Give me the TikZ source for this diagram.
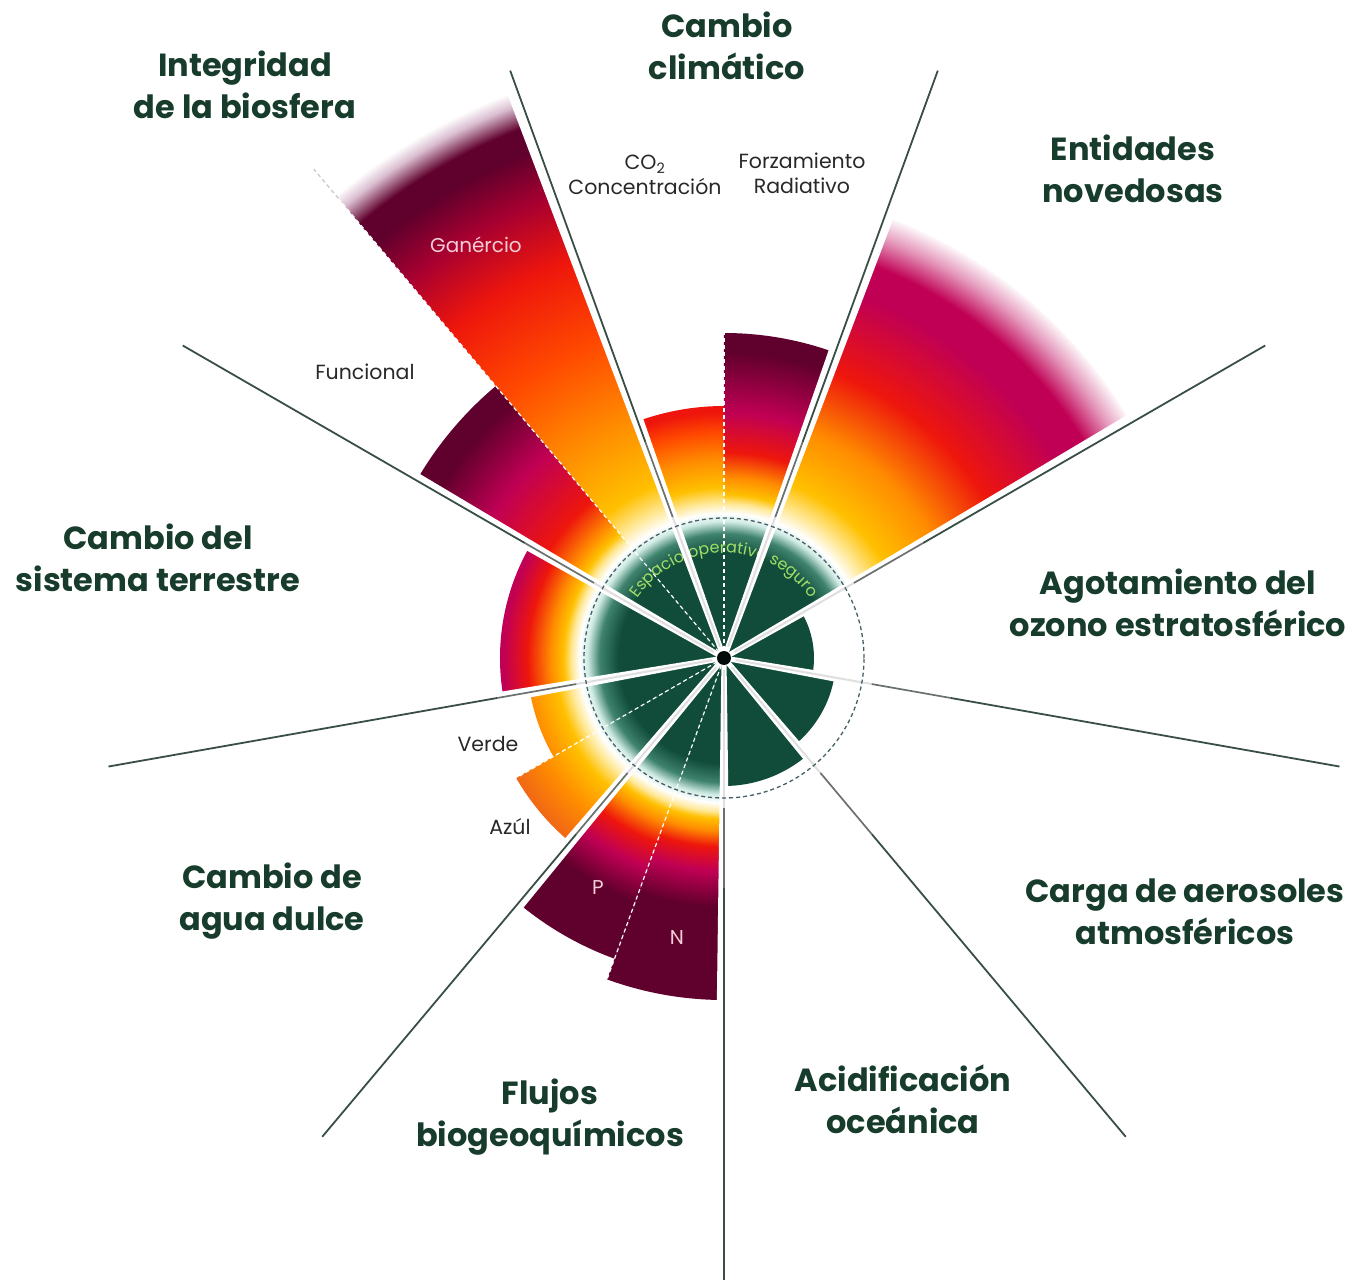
\documentclass[tikz,border=0pt]{standalone}
\usepackage{fontspec}
\setmainfont{Poppins}
\usetikzlibrary{decorations.text}

\definecolor{pbgreen}{RGB}{16,76,57}
\definecolor{pbglowA}{RGB}{62,130,110}
\definecolor{pbglowB}{RGB}{208,235,228}
\definecolor{pblight}{RGB}{255,232,150}
\definecolor{pbyel}{RGB}{255,192,0}
\definecolor{pbora}{RGB}{255,140,0}
\definecolor{pbdora}{RGB}{240,102,22}
\definecolor{pbrora}{RGB}{255,72,0}
\definecolor{pbred}{RGB}{238,22,12}
\definecolor{pbcrim}{RGB}{168,0,48}
\definecolor{pbmag}{RGB}{192,0,84}
\definecolor{pbmar}{RGB}{96,0,44}
\definecolor{pbpink}{RGB}{228,150,186}
\definecolor{pbpale}{RGB}{218,190,208}
\definecolor{pbtitle}{RGB}{24,60,44}
\definecolor{pbtext}{RGB}{40,40,40}
\definecolor{pbintext}{RGB}{246,205,215}
\definecolor{pbsafe}{RGB}{160,222,104}
\definecolor{pbspoke}{RGB}{58,78,72}
\definecolor{pbring}{RGB}{70,96,104}

% one radial shading per boundary, radii in bp from the centre
\pgfdeclareradialshading{shco}{\pgfpointorigin}{color(0bp)=(pbgreen); color(105bp)=(pbgreen); color(124bp)=(pbglowA); color(136bp)=(pbglowB); color(144bp)=(white); color(155bp)=(pblight); color(170bp)=(pbyel); color(198bp)=(pbora); color(225bp)=(pbrora); color(245bp)=(pbred); color(700bp)=(pbred)}
\pgfdeclareradialshading{shrf}{\pgfpointorigin}{color(0bp)=(pbgreen); color(105bp)=(pbgreen); color(124bp)=(pbglowA); color(136bp)=(pbglowB); color(144bp)=(white); color(154bp)=(pblight); color(163bp)=(pbyel); color(180bp)=(pbora); color(205bp)=(pbred); color(245bp)=(pbmag); color(305bp)=(pbmar); color(700bp)=(pbmar)}
\pgfdeclareradialshading{shnovel}{\pgfpointorigin}{color(0bp)=(pbgreen); color(105bp)=(pbgreen); color(124bp)=(pbglowA); color(136bp)=(pbglowB); color(144bp)=(white); color(160bp)=(pblight); color(185bp)=(pbyel); color(240bp)=(pbora); color(305bp)=(pbred); color(385bp)=(pbmag); color(418bp)=(pbmag); color(446bp)=(pbpink); color(470bp)=(white); color(700bp)=(white)}
\pgfdeclareradialshading{shgen}{\pgfpointorigin}{color(0bp)=(pbgreen); color(105bp)=(pbgreen); color(124bp)=(pbglowA); color(136bp)=(pbglowB); color(144bp)=(white); color(160bp)=(pblight); color(185bp)=(pbyel); color(255bp)=(pbora); color(340bp)=(pbrora); color(425bp)=(pbred); color(490bp)=(pbcrim); color(540bp)=(pbmar); color(565bp)=(pbmar); color(588bp)=(pbpale); color(602bp)=(white); color(700bp)=(white)}
\pgfdeclareradialshading{shfun}{\pgfpointorigin}{color(0bp)=(pbgreen); color(105bp)=(pbgreen); color(124bp)=(pbglowA); color(136bp)=(pbglowB); color(144bp)=(white); color(153bp)=(pblight); color(162bp)=(pbyel); color(175bp)=(pbora); color(205bp)=(pbred); color(270bp)=(pbmag); color(330bp)=(pbmar); color(700bp)=(pbmar)}
\pgfdeclareradialshading{shland}{\pgfpointorigin}{color(0bp)=(pbgreen); color(105bp)=(pbgreen); color(124bp)=(pbglowA); color(136bp)=(pbglowB); color(144bp)=(white); color(152bp)=(pblight); color(160bp)=(pbyel); color(173bp)=(pbora); color(196bp)=(pbred); color(220bp)=(pbmag); color(700bp)=(pbmag)}
\pgfdeclareradialshading{shverde}{\pgfpointorigin}{color(0bp)=(pbgreen); color(105bp)=(pbgreen); color(124bp)=(pbglowA); color(136bp)=(pbglowB); color(144bp)=(white); color(155bp)=(pblight); color(168bp)=(pbyel); color(197bp)=(pbora); color(700bp)=(pbora)}
\pgfdeclareradialshading{shazul}{\pgfpointorigin}{color(0bp)=(pbgreen); color(105bp)=(pbgreen); color(124bp)=(pbglowA); color(136bp)=(pbglowB); color(144bp)=(white); color(156bp)=(pblight); color(172bp)=(pbyel); color(205bp)=(pbora); color(240bp)=(pbdora); color(700bp)=(pbdora)}
\pgfdeclareradialshading{shp}{\pgfpointorigin}{color(0bp)=(pbgreen); color(105bp)=(pbgreen); color(124bp)=(pbglowA); color(136bp)=(pbglowB); color(144bp)=(white); color(153bp)=(pblight); color(161bp)=(pbyel); color(174bp)=(pbora); color(195bp)=(pbred); color(222bp)=(pbmag); color(258bp)=(pbmar); color(700bp)=(pbmar)}
\pgfdeclareradialshading{shn}{\pgfpointorigin}{color(0bp)=(pbgreen); color(105bp)=(pbgreen); color(124bp)=(pbglowA); color(136bp)=(pbglowB); color(144bp)=(white); color(153bp)=(pblight); color(160bp)=(pbyel); color(172bp)=(pbora); color(188bp)=(pbred); color(212bp)=(pbmag); color(248bp)=(pbmar); color(700bp)=(pbmar)}

% shaded wedge: start angle, end angle, radius, shading
\newcommand{\pbwedge}[4]{%
  \begin{scope}
    \clip (0,0) -- (#1:#3) arc[start angle=#1, end angle=#2, radius=#3] -- cycle;
    \pgftext{\pgfuseshading{#4}}
  \end{scope}}

\begin{document}
\begin{tikzpicture}[x=1pt,y=1pt,
    title/.style={font=\bfseries\fontsize{32}{42}\selectfont, text=pbtitle, align=center},
    sublabel/.style={font=\fontsize{20.5}{25}\selectfont, text=pbtext, align=center},
    inlabel/.style={font=\fontsize{20}{25}\selectfont, text=pbintext},
    divline/.style={white, line width=1.2pt, dash pattern=on 4pt off 3pt},
    spokein/.style={draw=white!75!gray, line width=2pt},
    spokemid/.style={draw=gray!70!pbspoke, line width=1.7pt},
    spokeout/.style={draw=pbspoke, line width=1.8pt}]
  \useasboundingbox (-724,-622) rectangle (634,658);

  % safe boundaries (green only)
  \fill[pbgreen] (0,0) -- (-10:90) arc[start angle=-10, end angle=30, radius=90] -- cycle;
  \fill[pbgreen] (0,0) -- (-50:112) arc[start angle=-50, end angle=-10, radius=112] -- cycle;
  \fill[pbgreen] (0,0) -- (-90:128) arc[start angle=-90, end angle=-50, radius=128] -- cycle;

  % transgressed boundaries
  \pbwedge{90}{110}{252}{shco}
  \pbwedge{70}{90}{325}{shrf}
  \pbwedge{30}{70}{470}{shnovel}
  \pbwedge{110}{130}{620}{shgen}
  \pbwedge{130}{150}{355}{shfun}
  \pbwedge{150}{190}{224}{shland}
  \pbwedge{190}{210}{197}{shverde}
  \pbwedge{210}{230}{240}{shazul}
  \pbwedge{230}{250}{320}{shp}
  \pbwedge{250}{270}{342}{shn}

  % sub-boundary lines
  \draw[divline] (90:8) -- (90:338);
  \draw[divline] (130:8) -- (130:600);
  \draw[divline, draw=gray!45] (130:600) -- (130:638);
  \draw[divline] (210:8) -- (210:240);
  \draw[divline] (250:8) -- (250:346);

  \path[decorate, decoration={text along path, text align=center, text color=pbsafe,
      text={|\fontsize{16}{16}\selectfont|Espacio operativo seguro}}]
    (152:105) arc[start angle=152, end angle=28, radius=105];

  % spokes
  \foreach \a in {110,70,30,-10,-50,-90,-130,-170,150}{
    \fill[white] (\a+90:2.5) -- (\a+1:640) -- (\a-1:640) -- (\a-90:2.5) -- cycle;
    \draw[spokein] (\a:12) -- (\a:150);
    \draw[spokemid] (\a:150) -- (\a:230);
    \draw[spokeout] (\a:230) -- (\a:625);
  }

  \draw[pbring, line width=1.3pt, dash pattern=on 4pt off 3pt] (0,0) circle[radius=140];
  \fill[black!85!pbgreen] (0,0) circle[radius=7];

  % boundary names
  \node[title] (climate) at (3,612) {Cambio\\climático};
  \node[title] (biosphere) at (-479,573) {Integridad\\de la biosfera};
  \node[title] (novel) at (409,489) {Entidades\\novedosas};
  \node[title] (ozone) at (454,55) {Agotamiento del\\ozono estratosférico};
  \node[title] (aerosol) at (461,-254) {Carga de aerosoles\\atmosféricos};
  \node[title] (ocean) at (179,-441) {Acidificación\\oceánica};
  \node[title] (flows) at (-174,-459) {Flujos\\biogeoquímicos};
  \node[title] (water) at (-452,-243) {Cambio de\\agua dulce};
  \node[title] (land) at (-566,100) {Cambio del\\sistema terrestre};

  % control variables
  \node[sublabel] (co2) at (-79,483) {CO\textsubscript{2}\\Concentración};
  \node[sublabel] (forcing) at (78,485) {Forzamiento\\Radiativo};
  \node[inlabel] (genetic) at (-248,413) {Ganércio};
  \node[sublabel] (functional) at (-359,286) {Funcional};
  \node[sublabel] (green) at (-236,-86) {Verde};
  \node[sublabel] (blue) at (-214,-169) {Azúl};
  \node[inlabel] (phos) at (-126,-230) {P};
  \node[inlabel] (nitro) at (-47,-280) {N};
\end{tikzpicture}
\end{document}
